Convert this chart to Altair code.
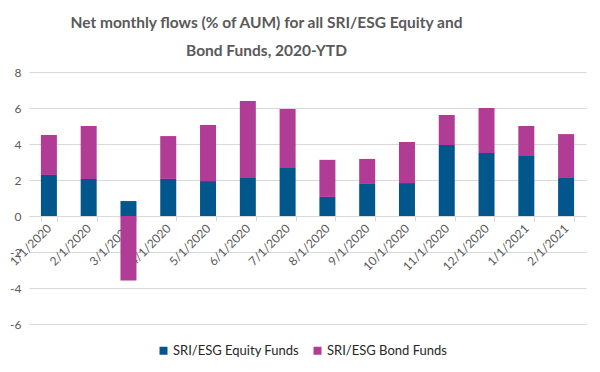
import altair as alt
import pandas as pd

months = ["1/1/2020", "2/1/2020", "3/1/2020", "4/1/2020", "5/1/2020", "6/1/2020",
          "7/1/2020", "8/1/2020", "9/1/2020", "10/1/2020", "11/1/2020", "12/1/2020",
          "1/1/2021", "2/1/2021"]
equity = [2.28, 2.06, 0.83, 2.06, 1.94, 2.11, 2.67, 1.06, 1.78, 1.83, 3.94, 3.50, 3.33, 2.11]
bond = [2.22, 2.94, -3.59, 2.38, 3.12, 4.28, 3.27, 2.06, 1.39, 2.28, 1.67, 2.50, 1.67, 2.44]
series = ["SRI/ESG Equity Funds", "SRI/ESG Bond Funds"]
colors = ["#01568B", "#B03C95"]

rows = []
for i, m in enumerate(months):
    rows.append({"month": m, "series": series[0], "value": equity[i], "ord": 0})
    rows.append({"month": m, "series": series[1], "value": bond[i], "ord": 1})
df = pd.DataFrame(rows)

FONT = "Lato"

chart = alt.Chart(df).mark_bar(size=16).encode(
    x=alt.X("month:N", sort=months, title=None,
            scale=alt.Scale(paddingInner=0.6, paddingOuter=0.3),
            axis=alt.Axis(labelAngle=-45, labelAlign="right", labelBaseline="middle",
                          offset=-108, tickBand="extent", tickSize=5,
                          tickColor="#D9D9D9", domainColor="#D9D9D9",
                          labelColor="#595959", labelFontSize=12, labelFont=FONT,
                          labelPadding=5, grid=False)),
    y=alt.Y("value:Q", title=None, stack="zero",
            scale=alt.Scale(domain=[-6, 8], nice=False),
            axis=alt.Axis(values=[-6, -4, -2, 0, 2, 4, 6, 8], domain=False, ticks=False,
                          labelExpr="datum.value < 0 ? '-' + abs(datum.value) : '' + datum.value",
                          gridColor="#D9D9D9", labelColor="#595959", labelFontSize=12,
                          labelFont=FONT, labelPadding=8)),
    color=alt.Color("series:N", sort=series,
                    scale=alt.Scale(domain=series, range=colors),
                    legend=alt.Legend(title=None, orient="none", direction="horizontal",
                                      legendX=128, legendY=272, symbolType="square",
                                      symbolSize=64, symbolStrokeWidth=0,
                                      labelFontSize=13, labelFont=FONT,
                                      labelColor="#262626", columnPadding=12,
                                      labelOffset=3)),
    order=alt.Order("ord:Q"),
).properties(
    width=557, height=252,
    title=alt.TitleParams(
        text=["Net monthly flows (% of AUM) for all SRI/ESG Equity and",
              "Bond Funds, 2020-YTD"],
        font=FONT, fontSize=15.5, fontWeight="bold", color="#595959",
        anchor="middle", dx=-41, offset=7, lineHeight=28),
    autosize=alt.AutoSizeParams(type="none"),
    padding={"left": 21, "top": 64, "right": 6, "bottom": 40},
).configure_view(stroke=None)

chart.save("out.html", embed_options={"renderer": "svg", "actions": False})
